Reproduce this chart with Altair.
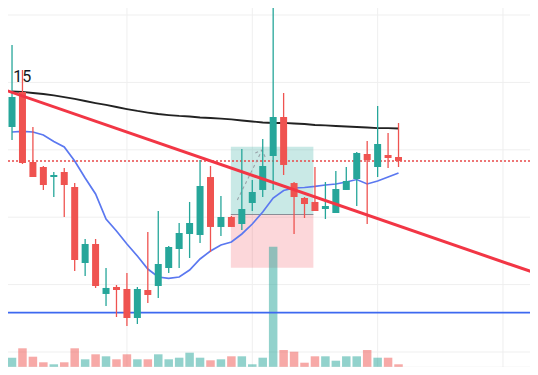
import altair as alt
import pandas as pd

# ---------------- data ----------------
bars = list(range(38))
opens = [133.38, 138.58, 128.19, 127.45, 125.96, 126.71, 124.48, 113.20, 116.02, 108.61,
         109.64, 109.35, 105.04, 109.20, 109.79, 112.46, 115.28, 117.51, 117.36, 125.96,
         118.55, 120.03, 118.99, 122.11, 124.04, 129.08, 134.87, 125.07, 122.85, 122.26,
         121.22, 120.62, 124.04, 125.67, 129.38, 127.45, 129.23, 128.93]
highs = [145.55, 141.84, 133.38, 127.60, 126.71, 127.30, 125.07, 116.77, 116.77, 112.46,
         109.94, 111.72, 109.64, 117.80, 120.92, 115.73, 119.14, 122.26, 128.49, 127.60,
         123.15, 120.18, 130.12, 125.52, 131.60, 152.97, 138.43, 125.22, 123.00, 127.45,
         125.22, 126.85, 127.45, 129.67, 131.31, 136.50, 132.49, 133.98]
lows = [131.45, 127.89, 125.96, 124.04, 123.00, 120.03, 112.02, 111.28, 109.50, 106.83,
        105.19, 103.86, 104.15, 107.27, 108.01, 111.72, 112.46, 113.95, 116.17, 114.84,
        117.21, 118.55, 118.10, 120.92, 123.00, 124.04, 126.26, 117.51, 119.88, 120.92,
        119.73, 120.62, 124.04, 121.66, 118.99, 125.96, 127.30, 127.45]
closes = [137.83, 128.04, 125.96, 124.78, 126.26, 124.78, 113.65, 116.02, 109.79, 109.50,
          109.20, 105.04, 109.35, 108.46, 113.06, 115.58, 117.66, 119.14, 124.63, 118.55,
          120.03, 118.55, 121.22, 123.74, 127.60, 134.87, 127.75, 123.00, 121.96, 120.92,
          121.66, 124.18, 125.37, 129.53, 128.49, 130.86, 128.78, 128.34]
volumes = [96, 190, 106, 50, 30, 50, 190, 80, 130, 110,
           80, 130, 80, 80, 130, 80, 96, 146, 96, 70,
           80, 110, 110, 30, 96, 1206, 173, 156, 46, 110,
           110, 66, 110, 110, 173, 96, 96, 30]
ma_slow = [138.65, 138.58, 138.43, 138.28, 138.06, 137.83, 137.54, 137.24, 136.94, 136.65,
           136.35, 136.05, 135.76, 135.53, 135.31, 135.16, 135.02, 134.94, 134.79, 134.72,
           134.64, 134.50, 134.35, 134.20, 134.05, 133.98, 133.98, 133.90, 133.83, 133.68,
           133.61, 133.53, 133.46, 133.38, 133.31, 133.23, 133.23, 133.16]
ma_fast = [132.64, 132.72, 132.64, 132.20, 131.23, 130.42, 128.34, 125.82, 123.44, 119.73,
           117.95, 116.02, 114.24, 112.31, 111.13, 110.91, 111.13, 112.17, 113.80, 114.99,
           115.88, 116.32, 117.51, 118.99, 120.77, 122.85, 123.96, 124.33, 124.41, 124.56,
           124.78, 124.93, 125.22, 125.59, 124.93, 125.37, 125.96, 126.56]

trend_bars = [-1, 51]
trend_prices = [139.05, 111.23]

support_price = [105.83]
last_price = [128.34]

pos_left = [20.95]
pos_right = [28.85]
pos_target = [130.46]
pos_entry = [120.40]
pos_stop = [112.49]

proj_seg = ["shaft", "shaft", "head1", "head1", "head2", "head2"]
proj_order = [0, 1, 0, 1, 0, 1]
proj_bars = [21.57, 23.94, 23.29, 23.94, 24.23, 23.94]
proj_prices = [122.55, 129.97, 129.53, 129.97, 128.93, 129.97]

label_text = ["15"]
label_bar = [0.12]
label_price = [140.06]

grid_prices = [100, 110, 120, 130, 140, 150]
grid_bars = [11, 23, 35, 47]
volume_base = [0]

# ---------------- scales ----------------
xs = alt.Scale(domain=[0.094, 49.108], nice=False, zero=False)
ys = alt.Scale(domain=[97.774, 151.039], nice=False, zero=False)
vs = alt.Scale(domain=[3, 3593], nice=False, zero=False)
cs = alt.Scale(domain=["up", "down"], range=["#26a69a", "#ef5350"])

UP = "#26a69a"
DOWN = "#ef5350"

df = pd.DataFrame({"bar": bars, "open": opens, "high": highs, "low": lows,
                   "close": closes, "volume": volumes,
                   "slow": ma_slow, "fast": ma_fast})
df["dir"] = ["up" if c >= o else "down" for o, c in zip(opens, closes)]

X = alt.X("bar:Q", scale=xs, axis=None)
col = alt.Color("dir:N", scale=cs, legend=None)

grid_h = alt.Chart(pd.DataFrame({"p": grid_prices})).mark_rule(
    color="#efefef", strokeWidth=1).encode(y=alt.Y("p:Q", scale=ys, axis=None))
grid_v = alt.Chart(pd.DataFrame({"b": grid_bars})).mark_rule(
    color="#efefef", strokeWidth=1).encode(x=alt.X("b:Q", scale=xs, axis=None))

posdf = pd.DataFrame({"l": pos_left, "r": pos_right, "t": pos_target,
                      "e": pos_entry, "s": pos_stop})
box_target = alt.Chart(posdf).mark_rect(color=UP, opacity=0.25).encode(
    x=alt.X("l:Q", scale=xs, axis=None), x2="r:Q",
    y=alt.Y("t:Q", scale=ys, axis=None), y2="e:Q")
box_stop = alt.Chart(posdf).mark_rect(color="#f23645", opacity=0.2).encode(
    x=alt.X("l:Q", scale=xs, axis=None), x2="r:Q",
    y=alt.Y("e:Q", scale=ys, axis=None), y2="s:Q")
entry_line = alt.Chart(posdf).mark_rule(color="#8a8d96", strokeWidth=1.2).encode(
    x=alt.X("l:Q", scale=xs, axis=None), x2="r:Q",
    y=alt.Y("e:Q", scale=ys, axis=None))

vol = alt.Chart(df).mark_bar(size=8.5, opacity=0.5).encode(
    x=X, y=alt.Y("volume:Q", scale=vs, axis=None), y2=alt.datum(0), color=col)
vol_base = alt.Chart(pd.DataFrame({"v": volume_base})).mark_rule(
    color="#e3e3e3", strokeWidth=1).encode(y=alt.Y("v:Q", scale=vs, axis=None))

support = alt.Chart(pd.DataFrame({"p": support_price})).mark_rule(
    color="#3d68f0", strokeWidth=1.7).encode(y=alt.Y("p:Q", scale=ys, axis=None))
lastline = alt.Chart(pd.DataFrame({"p": last_price})).mark_rule(
    color="#e84848", strokeWidth=1.5, strokeDash=[2, 2]).encode(
    y=alt.Y("p:Q", scale=ys, axis=None))

slow = alt.Chart(df).mark_line(color="#222222", strokeWidth=1.8, clip=True).encode(
    x=X, y=alt.Y("slow:Q", scale=ys, axis=None))
fast = alt.Chart(df).mark_line(color="#5b78f0", strokeWidth=1.7, clip=True).encode(
    x=X, y=alt.Y("fast:Q", scale=ys, axis=None))

projdf = pd.DataFrame({"seg": proj_seg, "k": proj_order, "b": proj_bars, "p": proj_prices})
proj = alt.Chart(projdf).mark_line(color="#8f929b", strokeWidth=1.1,
                                   strokeDash=[3, 3], opacity=0.8).encode(
    x=alt.X("b:Q", scale=xs, axis=None), y=alt.Y("p:Q", scale=ys, axis=None),
    detail="seg:N", order="k:Q")

wick = alt.Chart(df).mark_rule(strokeWidth=1.3, clip=True).encode(
    x=X, y=alt.Y("low:Q", scale=ys, axis=None), y2="high:Q", color=col)
body = alt.Chart(df).mark_bar(size=7, clip=True).encode(
    x=X, y=alt.Y("open:Q", scale=ys, axis=None), y2="close:Q", color=col)

trend = alt.Chart(pd.DataFrame({"b": trend_bars, "p": trend_prices})).mark_line(
    color="#f23645", strokeWidth=3, clip=True).encode(
    x=alt.X("b:Q", scale=xs, axis=None), y=alt.Y("p:Q", scale=ys, axis=None))

label = alt.Chart(pd.DataFrame({"t": label_text, "b": label_bar, "p": label_price})).mark_text(
    align="left", baseline="alphabetic", fontSize=16, font="Roboto", color="#131722").encode(
    x=alt.X("b:Q", scale=xs, axis=None), y=alt.Y("p:Q", scale=ys, axis=None), text="t:N")

chart = alt.layer(
    grid_h, grid_v, box_target, box_stop, entry_line, vol, vol_base,
    support, lastline, slow, fast, proj, wick, body, trend, label
).resolve_scale(y="independent").properties(
    width=522, height=359, padding=0, autosize="none", background="white"
).configure_view(stroke=None)

chart.save("out.html", embed_options={"renderer": "svg", "actions": False})
